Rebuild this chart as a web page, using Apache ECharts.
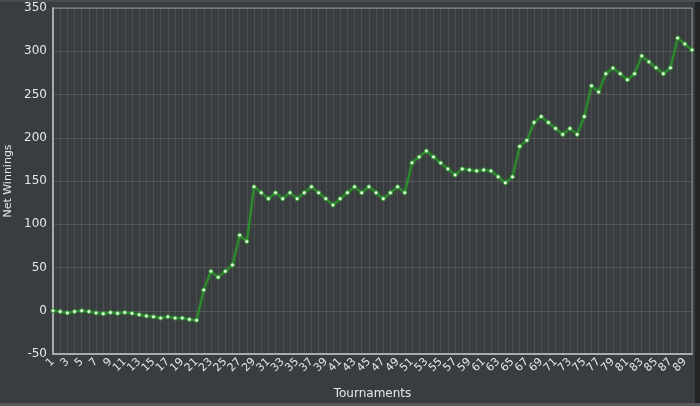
<!DOCTYPE html>
<html>
<head>
<meta charset="utf-8">
<script src="https://cdn.jsdelivr.net/npm/echarts@6/dist/echarts.min.js"></script>
<style>
  html, body { margin: 0; padding: 0; background: #3a3d40; }
  #chart { width: 700px; height: 406px; }
</style>
</head>
<body>
<div id="chart"></div>
<script>
// tournaments 1..90
var tournaments = []
for (var i = 1; i <= 90; i++) tournaments.push(i)

// net winnings
var winnings = [
  0, -1, -2.5, -1, 0, -1, -2.5, -3.5, -2, -3,
  -2, -3, -4.5, -6, -7, -8.5, -7, -8.5, -8.5, -10,
  -11, 24, 45.6, 38.7, 45.6, 53, 87.4, 80, 143.3, 136.4,
  129.5, 136.4, 129.5, 136.4, 129.5, 136.4, 143.3, 136.4, 129.5, 122.2,
  129.5, 136.4, 143.3, 136.4, 143.3, 136.4, 129.5, 136.4, 143.3, 136.4,
  171, 177.8, 184.7, 177.8, 170.9, 164, 157, 164, 162.8, 161.7,
  162.8, 161.7, 154.8, 147.9, 154.8, 190, 197, 217.6, 224.5, 217.6,
  210.7, 203.8, 210.7, 203.8, 224.5, 260, 252.9, 274, 280.5, 274,
  267, 274, 294.6, 287.7, 280.8, 274, 280.8, 315.3, 308.4, 301.5
]

var xTicks = { min: 1, max: 90, interval: 2 }  // labels 1, 3 ... 89
var yTicks = { min: -50, max: 350, interval: 50 }

var points = tournaments.map(function (t, i) { return [t, winnings[i]] })

var chart = echarts.init(document.getElementById('chart'))
chart.setOption({
  backgroundColor: '#3a3d40',
  animation: false,
  graphic: [
    // dark frame strips at the edges of the screenshot
    { type: 'rect', right: 0, top: 0, shape: { width: 5, height: 406 }, style: { fill: '#222426' } },
    { type: 'rect', left: 0, bottom: 0, shape: { width: 700, height: 3 }, style: { fill: '#55585b' } },
    { type: 'rect', left: 0, top: 0, shape: { width: 700, height: 2 }, style: { fill: '#4a4d50' } }
  ],
  grid: {
    left: 53,
    right: 8,
    top: 8,
    bottom: 52,
    outerBoundsMode: 'none',
    containLabel: false,
    show: true,
    borderColor: '#8f9194',
    borderWidth: 1
  },
  xAxis: [{
    type: 'value',
    min: xTicks.min,
    max: xTicks.max,
    interval: xTicks.interval,
    name: 'Tournaments',
    nameLocation: 'middle',
    nameGap: 34,
    nameTextStyle: { color: '#e6e6e6', fontSize: 12, fontFamily: 'DejaVu Sans' },
    axisLine: { onZero: false, lineStyle: { color: '#a9abad', width: 2 } },
    axisTick: { show: false },
    axisLabel: {
      rotate: 45,
      color: '#e6e6e6',
      fontSize: 11,
      margin: 6,
      hideOverlap: false,
      showMinLabel: true,
      showMaxLabel: false,
      fontFamily: 'DejaVu Sans'
    },
    splitLine: { show: false }
  }, {
    // only carries the vertical grid line at every tournament
    type: 'category',
    data: tournaments,
    boundaryGap: false,
    position: 'bottom',
    axisLine: { show: false },
    axisTick: { show: false },
    axisLabel: { show: false },
    splitLine: {
      show: true,
      interval: 0,
      lineStyle: { color: 'rgba(255,255,255,0.09)', width: 1 }
    }
  }],
  yAxis: {
    type: 'value',
    min: yTicks.min,
    max: yTicks.max,
    interval: yTicks.interval,
    name: 'Net Winnings',
    nameLocation: 'middle',
    nameGap: 30,
    nameTextStyle: { color: '#e6e6e6', fontSize: 11, fontFamily: 'DejaVu Sans' },
    axisLine: { show: true, lineStyle: { color: '#a9abad', width: 2 } },
    axisTick: { show: false },
    axisLabel: { color: '#e6e6e6', fontSize: 12, margin: 6, fontFamily: 'DejaVu Sans' },
    splitLine: { lineStyle: { color: 'rgba(255,255,255,0.12)', width: 1 } }
  },
  series: [{
    type: 'line',
    xAxisIndex: 0,
    data: points,
    symbol: 'circle',
    symbolSize: 4,
    itemStyle: { color: '#e4ffe0', borderColor: '#2f9b2f', borderWidth: 1 },
    lineStyle: {
      color: '#2a8f2a',
      width: 2,
      shadowColor: 'rgba(50,170,50,0.45)',
      shadowBlur: 3
    }
  }]
})
</script>
</body>
</html>
